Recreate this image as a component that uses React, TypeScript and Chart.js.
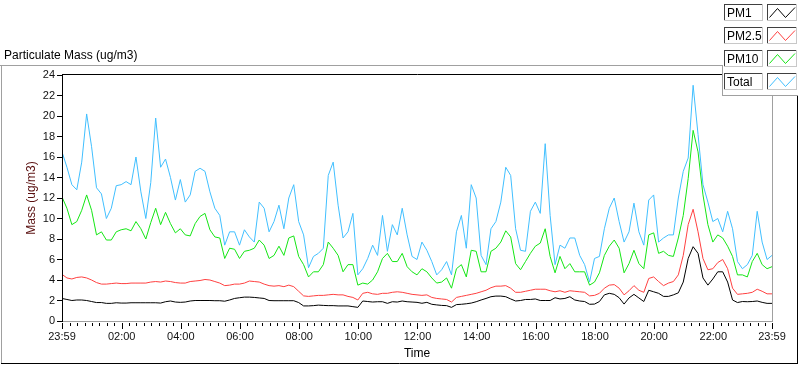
import React, { useEffect, useRef } from 'react';
import { Chart, registerables } from 'chart.js';

Chart.register(...registerables);

const FONT = '"Liberation Sans", Arial, sans-serif';

// Sampling grid: minutes after the 23:59 start of the record (10-minute readings)
const SAMPLE_MINUTES = Array.from({ length: 145 }, (_, i) => i * 10);

const PM1 = [
  2.2, 2.1, 2.0, 2.05, 2.05, 2.0, 1.9, 1.8, 1.8, 1.72, 1.72, 1.78, 1.75, 1.75, 1.78, 1.78, 1.78, 1.78, 1.78, 1.78, 1.75, 1.88, 1.95, 1.85, 1.82,
  1.85, 1.95, 2.0, 2.0, 2.0, 2.0, 1.98, 1.98, 1.93, 2.05, 2.2, 2.27, 2.33, 2.33, 2.3, 2.25, 2.2, 2.0, 1.98, 1.98, 1.98, 1.98, 1.98, 1.8,
  1.47, 1.47, 1.5, 1.55, 1.52, 1.5, 1.5, 1.47, 1.47, 1.47, 1.4, 1.33, 1.95, 1.9, 1.85, 1.88, 1.88, 1.72, 1.88, 1.85, 1.95, 1.88, 1.85, 1.82,
  1.73, 1.82, 1.63, 1.57, 1.52, 1.5, 1.33, 1.6, 1.63, 1.68, 1.75, 1.88, 2.05, 2.2, 2.37, 2.43, 2.43, 2.37, 2.15, 1.95, 2.0, 2.1, 2.1, 2.15,
  2.0, 2.0, 2.0, 2.27, 2.15, 2.2, 2.37, 2.05, 1.95, 1.9, 1.63, 1.65, 1.9, 2.55, 2.7, 2.6, 2.27, 1.65, 2.25, 2.6, 2.25, 1.9, 3.0, 2.85,
  2.7, 2.4, 2.4, 2.55, 2.75, 3.8, 6.1, 7.25, 6.6, 4.2, 3.5, 4.1, 4.8, 4.8, 3.8, 2.05, 1.8, 1.9, 1.88, 1.9, 1.95, 1.82, 1.72, 1.72,
];

const PM25 = [
  4.55, 4.2, 4.1, 4.25, 4.3, 4.2, 4.0, 3.75, 3.6, 3.6, 3.65, 3.7, 3.65, 3.65, 3.7, 3.7, 3.7, 3.7, 3.8, 3.85, 3.8, 3.9, 3.85, 3.75, 3.7,
  3.7, 3.85, 3.9, 3.95, 4.05, 4.0, 3.85, 3.7, 3.45, 3.5, 3.6, 3.6, 3.7, 3.9, 3.85, 3.8, 3.6, 3.45, 3.4, 3.45, 3.35, 3.5, 3.35, 2.9,
  2.45, 2.4, 2.45, 2.5, 2.5, 2.55, 2.6, 2.55, 2.55, 2.4, 2.3, 2.05, 2.7, 2.8, 2.65, 2.6, 2.7, 2.7, 2.8, 2.85, 2.8, 2.7, 2.6, 2.55,
  2.5, 2.55, 2.3, 2.2, 2.15, 2.1, 1.85, 2.3, 2.4, 2.5, 2.6, 2.7, 2.85, 3.0, 3.25, 3.4, 3.4, 3.45, 3.2, 2.8, 2.8, 2.9, 3.0, 3.1,
  3.1, 3.1, 2.95, 2.85, 2.95, 2.8, 2.95, 2.9, 2.85, 2.8, 2.45, 2.5, 2.7, 3.2, 3.5, 3.55, 3.2, 2.55, 2.95, 3.45, 3.0, 2.8, 4.15, 4.3,
  3.85, 3.45, 3.7, 3.85, 4.5, 6.4, 9.4, 10.9, 8.7, 6.1, 5.0, 5.1, 5.7, 6.0, 5.1, 3.2, 2.6, 2.65, 2.7, 2.8, 3.1, 2.9, 2.65, 2.65,
];

const PM10 = [
  12.1, 11.0, 9.4, 9.7, 10.8, 12.3, 10.8, 8.4, 8.7, 7.9, 7.9, 8.7, 8.9, 9.0, 8.8, 9.7, 9.0, 8.0, 9.6, 11.0, 9.4, 10.6, 9.5, 8.6, 9.0,
  8.4, 8.3, 9.5, 10.2, 10.5, 8.9, 8.2, 8.1, 6.1, 7.1, 7.0, 6.1, 6.8, 6.9, 7.1, 7.9, 7.4, 6.1, 6.4, 7.3, 6.4, 8.1, 8.3, 6.3,
  5.5, 4.3, 4.8, 4.8, 5.5, 7.7, 7.1, 6.4, 4.8, 5.5, 5.5, 3.5, 3.7, 3.6, 4.0, 4.8, 6.1, 6.6, 5.8, 5.8, 6.6, 5.3, 4.8, 4.5,
  5.1, 4.8, 4.2, 3.7, 3.8, 4.2, 3.2, 5.1, 5.5, 4.3, 6.9, 6.8, 4.8, 4.8, 6.8, 7.1, 7.7, 8.8, 8.2, 5.6, 5.0, 5.8, 6.6, 7.3,
  7.6, 9.0, 6.3, 4.7, 6.3, 5.1, 5.6, 4.8, 4.8, 4.8, 3.5, 3.8, 4.7, 6.4, 7.3, 7.9, 7.1, 4.7, 5.6, 6.9, 5.6, 5.1, 8.4, 8.6,
  6.6, 6.8, 6.4, 6.3, 8.1, 10.3, 13.9, 18.6, 16.5, 12.3, 9.4, 7.7, 8.4, 8.1, 7.3, 6.3, 4.5, 4.5, 4.3, 5.8, 6.6, 5.5, 5.1, 5.3,
];

const TOTAL = [
  16.5, 15.0, 13.3, 12.8, 15.5, 20.2, 17.0, 13.0, 12.4, 10.0, 11.0, 13.2, 13.3, 13.6, 13.3, 16.0, 12.6, 10.0, 13.5, 19.8, 15.0, 15.8, 14.0, 11.8, 13.8,
  11.6, 12.3, 14.6, 14.9, 14.6, 12.6, 11.0, 10.3, 7.4, 8.7, 8.7, 7.4, 8.9, 8.2, 7.7, 11.6, 11.0, 8.7, 9.7, 11.3, 9.0, 12.0, 13.3, 9.7,
  8.4, 5.2, 6.3, 6.6, 7.1, 14.2, 15.5, 11.3, 8.1, 8.7, 10.5, 4.5, 5.1, 6.1, 7.4, 6.4, 10.3, 6.8, 9.4, 8.4, 11.0, 8.4, 6.3, 6.0,
  7.7, 6.9, 5.8, 4.5, 5.0, 5.8, 4.5, 8.7, 10.3, 7.1, 13.3, 12.0, 6.4, 5.5, 9.0, 9.7, 11.6, 15.0, 14.2, 9.0, 6.9, 6.8, 10.7, 11.6,
  10.5, 17.3, 10.3, 5.5, 7.4, 7.1, 8.1, 8.1, 6.4, 5.5, 3.8, 6.1, 6.3, 9.0, 11.0, 12.0, 9.7, 7.7, 8.7, 11.5, 8.7, 7.4, 11.8, 12.3,
  7.7, 8.1, 8.4, 8.4, 12.0, 14.6, 15.9, 23.0, 18.2, 13.3, 11.6, 9.7, 10.0, 8.7, 10.7, 9.0, 5.8, 5.1, 5.5, 6.4, 10.7, 7.7, 6.0, 6.4,
];

const SERIES_NAMES = ['PM1', 'PM2.5', 'PM10', 'Total'];
const SERIES_VALUES = [PM1, PM25, PM10, TOTAL];
const SERIES_COLORS = ['#000000', '#ff4040', '#14e614', '#40bfff'];

const X_TICK_MINUTES = [0, 121, 241, 361, 481, 601, 721, 841, 961, 1081, 1201, 1321, 1440];
const X_TICK_LABELS = ['23:59', '02:00', '04:00', '06:00', '08:00', '10:00', '12:00', '14:00', '16:00', '18:00', '20:00', '22:00', '23:59'];
const X_MINOR_FIRST = 1;
const X_MINOR_STEP = 15;
const X_MAX = 1440;
const Y_MAX = 24;
const Y_STEP = 2;

const TITLE = 'Particulate Mass (ug/m3)';
const Y_TITLE = 'Mass (ug/m3)';
const X_TITLE = 'Time';

const decorPlugin = {
  id: 'labviewDecor',
  afterDraw(chart: any) {
    const { ctx, chartArea: a } = chart;
    const xs = chart.scales.x;
    ctx.save();
    ctx.lineWidth = 1;
    const hl = (x1: number, x2: number, y: number, c: string) => {
      ctx.strokeStyle = c;
      ctx.beginPath();
      ctx.moveTo(x1, y);
      ctx.lineTo(x2, y);
      ctx.stroke();
    };
    const vl = (x: number, y1: number, y2: number, c: string) => {
      ctx.strokeStyle = c;
      ctx.beginPath();
      ctx.moveTo(x, y1);
      ctx.lineTo(x, y2);
      ctx.stroke();
    };

    // plot frame
    hl(a.left, a.right + 1, a.top - 0.5, '#000');
    vl(a.left + 0.5, a.top - 1, a.bottom + 1, '#000');
    vl(a.right + 0.5, a.top - 1, a.bottom + 1, '#a0a0a0');
    hl(a.left + 1, a.right + 1, a.bottom + 0.5, '#a0a0a0');

    // x-axis tick marks (minor every 15 min, major at labels)
    for (let m = X_MINOR_FIRST; m <= X_MAX; m += X_MINOR_STEP) {
      const px = Math.round(xs.getPixelForValue(m)) + 0.5;
      vl(px, a.bottom + 2, a.bottom + 5, '#000');
    }
    for (const m of X_TICK_MINUTES) {
      const px = Math.round(xs.getPixelForValue(m)) + 0.5;
      vl(px, a.bottom + 2, a.bottom + 8, '#000');
    }

    // outer panel frame
    hl(0, 722, 65.5, '#a0a0a0');
    vl(1.5, 65, 364, '#a0a0a0');
    hl(1, 798, 363.5, '#000');
    vl(797.5, 95, 364, '#000');

    // graph title
    ctx.fillStyle = '#000';
    ctx.font = `12px ${FONT}`;
    ctx.textBaseline = 'alphabetic';
    ctx.textAlign = 'left';
    ctx.fillText(TITLE, 4, 59);

    // legend panel
    ctx.fillStyle = '#fff';
    ctx.fillRect(723, 0, 77, 95);
    vl(722.5, 65, 96, '#a0a0a0');
    hl(722, 798, 95.5, '#a0a0a0');

    const box = (x: number, y: number, w: number, h: number) => {
      ctx.fillStyle = '#fff';
      ctx.fillRect(x, y, w, h);
      hl(x, x + w, y + 0.5, '#404040');
      vl(x + 0.5, y, y + h, '#404040');
      hl(x, x + w, y + h - 0.5, '#c8c8c8');
      vl(x + w - 0.5, y, y + h, '#c8c8c8');
    };
    chart.data.datasets.forEach((ds: any, i: number) => {
      const top = 4 + i * 23;
      box(724, top, 39, 17);
      box(767, top, 30, 17);
      ctx.fillStyle = '#000';
      ctx.font = `12px ${FONT}`;
      ctx.fillText(ds.label, 727, top + 13);
      ctx.strokeStyle = ds.borderColor;
      ctx.beginPath();
      ctx.moveTo(769.5, top + 13.5);
      ctx.lineTo(777.5, top + 4.5);
      ctx.lineTo(785.5, top + 13.5);
      ctx.lineTo(795, top + 3.5);
      ctx.stroke();
    });
    ctx.restore();
  },
};

export default function App() {
  const ref = useRef<HTMLCanvasElement | null>(null);

  useEffect(() => {
    if (!ref.current) return;
    const datasets = SERIES_NAMES.map((name, i) => ({
      label: name,
      data: SAMPLE_MINUTES.map((m, k) => ({ x: m, y: SERIES_VALUES[i][k] })),
      borderColor: SERIES_COLORS[i],
      backgroundColor: SERIES_COLORS[i],
      borderWidth: 1,
      pointRadius: 0,
      tension: 0,
      fill: false,
    }));
    const chart = new Chart(ref.current, {
      type: 'line',
      data: { datasets },
      plugins: [decorPlugin],
      options: {
        animation: false,
        responsive: false,
        devicePixelRatio: 1,
        layout: { padding: { top: 75, right: 28, left: 0, bottom: 0 } },
        plugins: {
          legend: { display: false },
          tooltip: { enabled: false },
          title: { display: false },
        },
        scales: {
          x: {
            type: 'linear',
            min: 0,
            max: X_MAX,
            afterFit: (s: any) => {
              s.height = 44;
            },
            afterBuildTicks: (s: any) => {
              s.ticks = X_TICK_MINUTES.map((v) => ({ value: v }));
            },
            ticks: {
              autoSkip: false,
              maxRotation: 0,
              padding: 9,
              color: '#111',
              font: { family: FONT, size: 11 },
              callback: (_v: any, i: number) => X_TICK_LABELS[i] ?? '',
            },
            grid: { display: false, drawTicks: false },
            border: { display: false },
            title: {
              display: true,
              text: X_TITLE,
              color: '#000',
              font: { family: FONT, size: 12 },
              padding: { top: 0, bottom: 4 },
            },
          },
          y: {
            type: 'linear',
            min: 0,
            max: Y_MAX,
            afterFit: (s: any) => {
              s.width = 62;
            },
            ticks: {
              stepSize: Y_STEP,
              padding: 2,
              color: '#111',
              font: { family: FONT, size: 11 },
            },
            grid: {
              display: true,
              drawOnChartArea: false,
              drawTicks: true,
              tickLength: 5,
              color: '#000',
            },
            border: { display: false },
            title: {
              display: true,
              text: Y_TITLE,
              color: '#5a1010',
              font: { family: FONT, size: 12 },
              padding: { top: 24, bottom: 0 },
            },
          },
        },
      } as any,
    });
    return () => chart.destroy();
  }, []);

  return (
    <div style={{ position: 'absolute', left: 0, top: 0, width: 800, height: 365, background: '#fff' }}>
      <canvas ref={ref} width={800} height={365} style={{ display: 'block', width: 800, height: 365 }} />
    </div>
  );
}
